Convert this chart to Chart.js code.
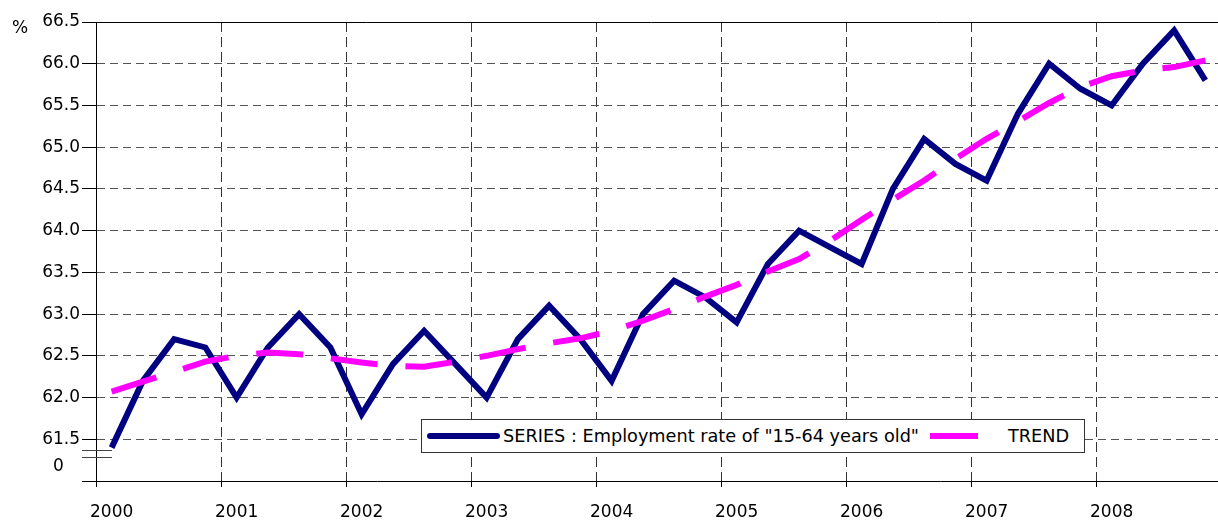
<!DOCTYPE html>
<html>
<head>
<meta charset="utf-8">
<script src="https://cdn.jsdelivr.net/npm/chart.js@4/dist/chart.umd.min.js"></script>
<style>
    html, body { margin: 0; padding: 0; background: #fff; overflow: hidden; }
    .wrap { position: relative; width: 1224px; height: 525px; }
    .unit { position: absolute; left: 12px; top: 17px; font: 17px "DejaVu Sans", sans-serif; color: #000; }
    .legend {
        position: absolute; left: 421px; top: 419px; width: 664px; height: 34px;
        box-sizing: border-box; border: 1px solid #333; background: #fff;
        display: flex; align-items: center;
        font: 17.7px "DejaVu Sans", sans-serif; color: #000; white-space: nowrap;
    }
    .legend .swatch { display: inline-block; height: 6px; }
</style>
</head>
<body>
<div class="wrap">
    <canvas id="emp-chart" width="1224" height="525"></canvas>
    <div class="unit">%</div>
    <div class="legend" id="legend"></div>
</div>
<script>
// Employment rate 15-64, quarterly 2000-2008

const years = ['2000', '2001', '2002', '2003', '2004', '2005', '2006', '2007', '2008'];
const quarterNames = ['Q1', 'Q2', 'Q3', 'Q4'];

const employmentRate = [
    61.4, 62.2, 62.7, 62.6,
    62.0, 62.6, 63.0, 62.6,
    61.8, 62.4, 62.8, 62.4,
    62.0, 62.7, 63.1, 62.7,
    62.2, 63.0, 63.4, 63.2,
    62.9, 63.6, 64.0, 63.8,
    63.6, 64.5, 65.1, 64.8,
    64.6, 65.4, 66.0, 65.7,
    65.5, 66.0, 66.4, 65.8
];

const trend = [
    62.07, 62.19, 62.31, 62.43,
    62.50, 62.54, 62.52, 62.47,
    62.42, 62.38, 62.37, 62.43,
    62.50, 62.58, 62.65, 62.71,
    62.80, 62.92, 63.06, 63.21,
    63.35, 63.51, 63.66, 63.88,
    64.13, 64.37, 64.60, 64.86,
    65.10, 65.31, 65.53, 65.72,
    65.85, 65.92, 65.96, 66.04
];

// y axis: real ticks plus the "0" of the broken axis
const yTicks = [61.0, 61.17, 61.5, 62.0, 62.5, 63.0, 63.5, 64.0, 64.5, 65.0, 65.5, 66.0, 66.5];
const yBreakLabelValue = 61.17;
const yBreakMarks = [61.376, 61.288];

const quarters = years.flatMap(y => quarterNames.map(q => y + ' ' + q));

const seriesLabel = 'SERIES : Employment rate of "15-64 years old"';
const trendLabel = 'TREND';
const seriesColor = '#000080';
const trendColor = '#ff00ff';

// solid top frame + axis break marks
const framePlugin = {
    id: 'frame',
    afterDraw(chart) {
        const ctx = chart.ctx;
        const area = chart.chartArea;
        const y = chart.scales.y;
        ctx.save();
        ctx.strokeStyle = '#000';
        ctx.lineWidth = 1;
        ctx.beginPath();
        ctx.moveTo(area.left - 14, Math.round(area.top) + 0.5);
        ctx.lineTo(area.right, Math.round(area.top) + 0.5);
        ctx.stroke();

        ctx.strokeStyle = '#444';
        yBreakMarks.forEach(v => {
            const py = Math.round(y.getPixelForValue(v)) + 0.5;
            ctx.beginPath();
            ctx.moveTo(area.left - 14, py);
            ctx.lineTo(area.left + 16, py);
            ctx.stroke();
        });
        ctx.restore();
    }
};

function isYearStart(index) {
    return index !== undefined && index % 4 === 0;
}

const ctx = document.getElementById('emp-chart').getContext('2d');

const empChart = new Chart(ctx, {
    type: 'line',
    data: {
        labels: quarters,
        datasets: [
            {
                label: seriesLabel,
                data: employmentRate,
                borderColor: seriesColor,
                backgroundColor: seriesColor,
                borderWidth: 6,
                tension: 0,
                pointRadius: 0,
                fill: false,
                order: 1
            },
            {
                label: trendLabel,
                data: trend,
                borderColor: trendColor,
                backgroundColor: trendColor,
                borderWidth: 6,
                borderDash: [47, 28],
                tension: 0,
                pointRadius: 0,
                fill: false,
                order: 0
            }
        ]
    },
    options: {
        responsive: false,
        animation: false,
        devicePixelRatio: 1,
        layout: {
            padding: { top: 22, right: 3, left: 0, bottom: 0 }
        },
        plugins: {
            legend: { display: false },
            tooltip: { enabled: false }
        },
        scales: {
            x: {
                type: 'category',
                offset: true,
                afterFit: scale => { scale.height = 44; },
                border: { display: true, color: '#000', width: 1, dash: [10, 5] },
                grid: {
                    offset: true,
                    color: c => isYearStart(c.index) ? '#333' : 'rgba(0,0,0,0)',
                    tickColor: c => isYearStart(c.index) ? '#000' : 'rgba(0,0,0,0)',
                    tickLength: 6,
                    lineWidth: 1
                },
                ticks: {
                    autoSkip: false,
                    maxRotation: 0,
                    minRotation: 0,
                    padding: 15,
                    color: '#000',
                    font: { family: 'DejaVu Sans', size: 17 },
                    callback: function(value, index) {
                        return index % 4 === 0 ? years[index / 4] : '';
                    }
                }
            },
            y: {
                min: 61.0,
                max: 66.5,
                afterFit: scale => { scale.width = 96; },
                afterBuildTicks: scale => {
                    scale.ticks = yTicks.map(v => ({ value: v }));
                },
                border: { display: true, color: '#000', width: 1, dash: [8, 5] },
                grid: {
                    color: c => {
                        const v = c.tick ? c.tick.value : null;
                        if (v === null || v <= yBreakLabelValue || v === 66.5) return 'rgba(0,0,0,0)';
                        return '#555';
                    },
                    tickColor: c => {
                        const v = c.tick ? c.tick.value : null;
                        return v === yBreakLabelValue ? 'rgba(0,0,0,0)' : '#000';
                    },
                    tickLength: 14,
                    lineWidth: 1
                },
                ticks: {
                    padding: 2,
                    color: '#000',
                    font: { family: 'DejaVu Sans', size: 17 },
                    callback: function(value) {
                        if (value === yBreakLabelValue) return '0   ';
                        if (value < 61.5) return '';
                        return value.toFixed(1);
                    }
                }
            }
        }
    },
    plugins: [framePlugin]
});

// HTML legend built from the datasets
function buildLegend() {
    const el = document.getElementById('legend');
    const ds = empChart.data.datasets;
    el.innerHTML = '';

    const s1 = document.createElement('span');
    s1.className = 'swatch';
    s1.style.cssText = 'width:73px;margin-left:5px;margin-right:3px;border-radius:3px;background:' + ds[0].borderColor;
    el.appendChild(s1);

    const t1 = document.createElement('span');
    t1.textContent = ds[0].label;
    el.appendChild(t1);

    const s2 = document.createElement('span');
    s2.className = 'swatch';
    s2.style.cssText = 'width:48px;margin-left:11px;margin-right:30px;background:' + ds[1].borderColor;
    el.appendChild(s2);

    const t2 = document.createElement('span');
    t2.textContent = ds[1].label;
    el.appendChild(t2);
}

buildLegend();
</script>
</body>
</html>
